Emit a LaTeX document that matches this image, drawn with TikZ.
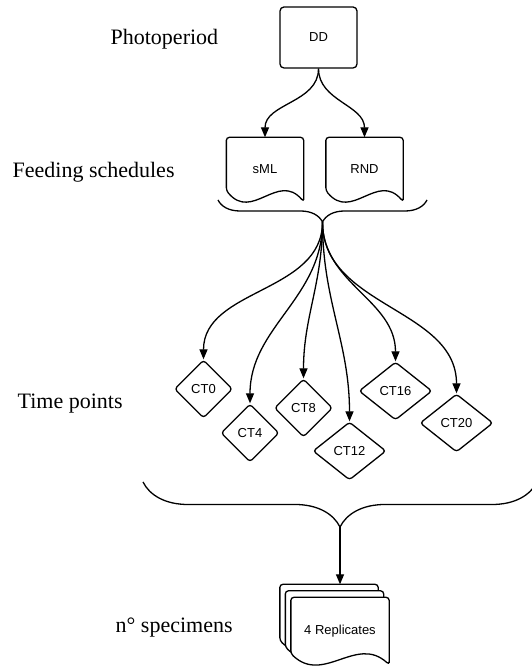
\documentclass[tikz,border=0pt]{standalone}
\usepackage{fontspec}
\setmainfont{Liberation Serif}
\newfontfamily\boxfont{Liberation Sans}
\usetikzlibrary{shapes.geometric,arrows.meta,decorations.pathreplacing,calc,backgrounds}

\tikzset{
  stage/.style={anchor=base west, inner sep=0pt, font=\fontsize{22}{26}\selectfont},
  procbox/.style={rectangle, draw, rounded corners=4pt, minimum width=77pt, minimum height=61pt, font=\boxfont\fontsize{13}{15}\selectfont},
  docbox/.style={rectangle, inner sep=0pt, minimum width=76pt, minimum height=63pt, font=\boxfont\fontsize{13}{15}\selectfont},
  sheetbox/.style={docbox, minimum width=97pt, minimum height=66pt},
  ctbox/.style={diamond, draw, rounded corners=3pt, inner sep=0pt, minimum width=58pt, minimum height=58pt, font=\boxfont\fontsize{13}{15}\selectfont},
  ctwide/.style={ctbox, minimum width=73pt},
  bracket/.style={decorate, decoration={brace, mirror, amplitude=#1}}
}

\begin{document}
\begin{tikzpicture}[x=1pt, y=1pt, line width=1.3pt, >={Triangle[length=10pt,width=8pt]}]
    \useasboundingbox (0,0) rectangle (531,666);

    % Level names on the left
    \node[stage] (lphoto) at (110,621) {Photoperiod};
    \node[stage] (lfeed) at (12,488) {Feeding schedules};
    \node[stage] (ltime) at (17,257) {Time points};
    \node[stage] (lspec) at (115,33) {n° specimens};

    % Photoperiod and feeding schedules
    \node[procbox] (dd) at (318.5,628.5) {DD};
    \node[docbox] (sml) at (265,496.5) {sML};
    \node[docbox] (rnd) at (364.5,496.5) {RND};

    % Time points
    \node[ctbox] (ct0) at (203.5,277) {CT0};
    \node[ctbox] (ct4) at (250,233) {CT4};
    \node[ctbox] (ct8) at (303.5,258) {CT8};
    \node[ctwide] (ct12) at (349.5,215) {CT12};
    \node[ctwide] (ct16) at (395.5,275) {CT16};
    \node[ctwide] (ct20) at (456.5,243) {CT20};

    % Replicates, three stacked sheets
    \node[sheetbox] (rep3) at (329,48) {};
    \node[sheetbox] (rep2) at (334.5,41.5) {};
    \node[sheetbox] (rep) at (340,35) {4 Replicates};

    % Document outlines with wavy bottom
    \begin{scope}[on background layer, line width=1.3pt]
        \foreach \n in {sml,rnd,rep3,rep2,rep}
            \draw[line width=1.3pt, rounded corners=3pt, fill=white] (\n.south east) -- (\n.north east) -- (\n.north west)
                -- ($(\n.south west)+(0,11)$)
                .. controls ($(\n.south west)!1/3!(\n.south east)+(0,-20)$)
                and ($(\n.south west)!2/3!(\n.south east)+(0,30)$) .. (\n.south east) -- cycle;
    \end{scope}

    % Braces
    \draw[bracket=22pt] (218,466) -- (427,466);
    \draw[bracket=45pt] (143,184) -- (537,184);
    \coordinate (fork1) at (322.5,444);
    \coordinate (fork2) at (340,139);

    % Connectors
    \draw[->] (dd.south) to[out=-90,in=90] (sml.north);
    \draw[->] (dd.south) to[out=-90,in=90] (rnd.north);
    \foreach \t in {ct0,ct4,ct8,ct12,ct16,ct20}
        \draw[->] (fork1) to[out=-90,in=90] (\t.north);
    \draw[->] (fork2) -- (fork2 |- rep3.north);
\end{tikzpicture}
\end{document}
